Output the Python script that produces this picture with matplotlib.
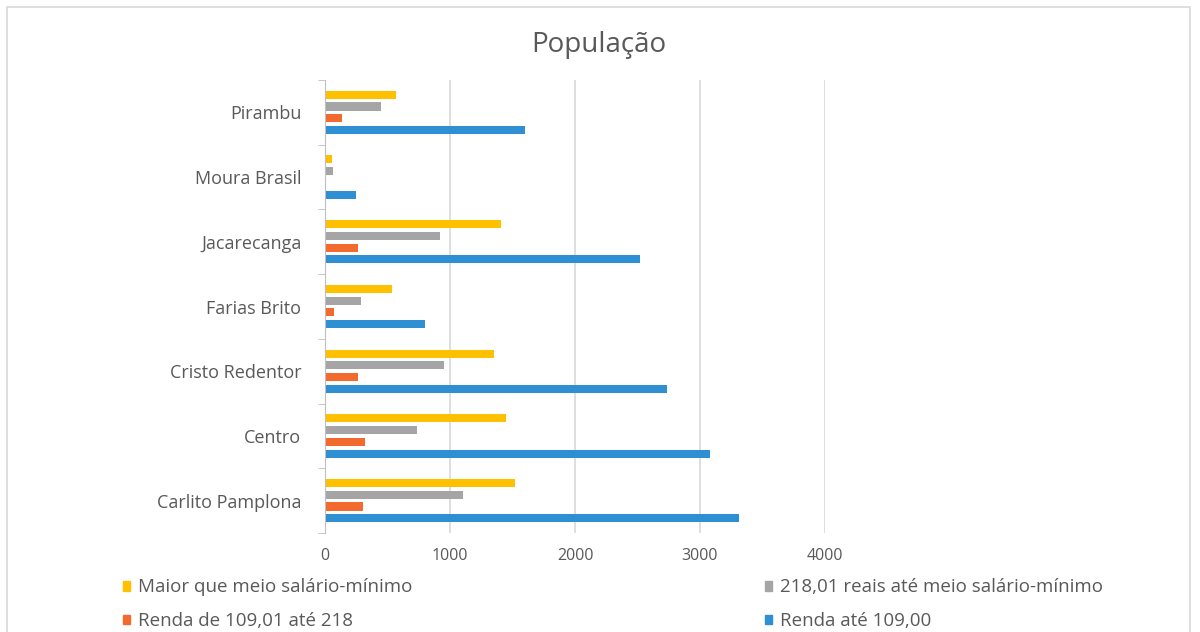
import matplotlib.pyplot as plt
import numpy as np
from matplotlib.patches import Patch, Rectangle

plt.rcParams['font.family'] = ['Open Sans', 'DejaVu Sans']

# dados (de baixo para cima)
bairros = ['Carlito Pamplona', 'Centro', 'Cristo Redentor', 'Farias Brito',
           'Jacarecanga', 'Moura Brasil', 'Pirambu']
renda_ate_109 = [3315, 3079, 2732, 802, 2518, 251, 1598]
renda_109_218 = [302, 318, 267, 70, 267, 0, 136]
renda_218_meio = [1101, 735, 949, 286, 917, 67, 449]
maior_meio = [1518, 1449, 1350, 535, 1406, 54, 567]

series = [
    ('Renda até 109,00', renda_ate_109, '#2E8FD3'),
    ('Renda de 109,01 até 218', renda_109_218, '#F26A2E'),
    ('218,01 reais até meio salário-mínimo', renda_218_meio, '#A5A5A5'),
    ('Maior que meio salário-mínimo', maior_meio, '#FFC000'),
]

txt = '#595959'
fig = plt.figure(figsize=(12, 6.32), dpi=100)
ax = fig.add_axes([325 / 1200, 1 - 533 / 632, 500 / 1200, 453 / 632])

# borda do gráfico
fig.patches.append(Rectangle((7 / 1200, -0.01), 1183 / 1200, 1 - 7 / 632 + 0.01,
                             transform=fig.transFigure, fill=False,
                             edgecolor='#D9D9D9', linewidth=1.2))

y = np.arange(len(bairros))
passo = 0.182
altura = 0.125
handles = {}
for i, (nome, vals, cor) in enumerate(series):
    ax.barh(y + (i - 1.5) * passo, vals, height=altura, color=cor, label=nome)
    handles[nome] = Patch(color=cor, label=nome)

ax.set_xlim(0, 4000)
ax.set_ylim(-0.5, len(bairros) - 0.5)
ax.set_xticks([0, 1000, 2000, 3000, 4000])
ax.set_yticks(y)
ax.set_yticklabels(bairros)
ax.set_yticks(np.arange(-0.5, len(bairros)), minor=True)
ax.tick_params(axis='y', which='major', length=0, pad=17, labelsize=13, labelcolor=txt)
ax.tick_params(axis='y', which='minor', length=5, color='#BFBFBF')
ax.tick_params(axis='x', length=0, pad=11, labelsize=11.5, labelcolor=txt)
ax.grid(axis='x', color='#D9D9D9', linewidth=1.2)
ax.set_axisbelow(True)
for s in ['top', 'right', 'bottom']:
    ax.spines[s].set_visible(False)
ax.spines['left'].set_color('#BFBFBF')

fig.text(0.499, 1 - 45 / 632, 'População', ha='center', va='center',
         fontsize=20, color=txt)

ordem = ['Maior que meio salário-mínimo', 'Renda de 109,01 até 218',
         '218,01 reais até meio salário-mínimo', 'Renda até 109,00']
leg = fig.legend([handles[n] for n in ordem], ordem, ncol=2, mode='expand',
                 loc='upper left', bbox_to_anchor=(115 / 1200, 0, 995 / 1200, 1 - 571 / 632),
                 frameon=False, fontsize=13.5, handlelength=0.4, handleheight=0.4,
                 handletextpad=0.4, labelspacing=0.85, borderaxespad=0)
for t in leg.get_texts():
    t.set_color(txt)

plt.savefig('out.png')
